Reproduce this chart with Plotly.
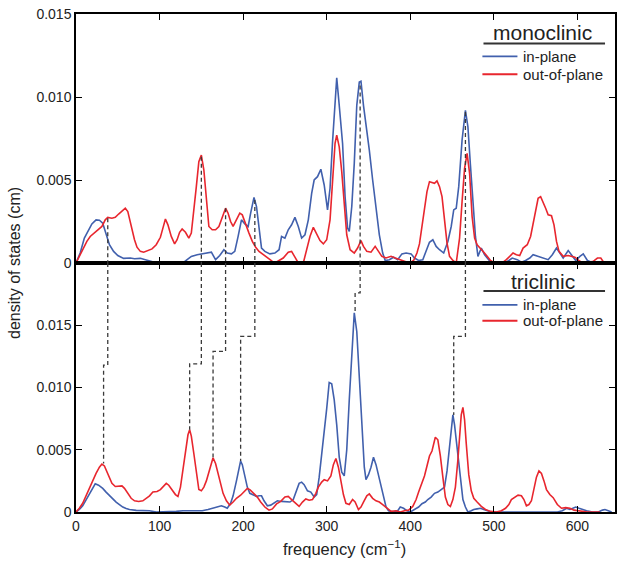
import numpy as np
import plotly.graph_objects as go
from plotly.subplots import make_subplots

# (frequency in cm^-1, density of states in 1e-3 cm)
mono_in = [(0,0),(5,0.6),(10,1.5),(15,2.0),(19,2.35),(24,2.6),(28,2.58),(32,2.4),(36,1.8),(40,1.1),(45,0.7),(50,0.45),
           (57,0.28),(65,0.3),(70,0.26),(77,0.28),(83,0.2),(90,0.1),(97,0),(105,0),(115,0),(122,0.05),(128,0),(133,0.2),
           (138,0.4),(145,0.5),(152,0.55),(158,0.6),(162,0.65),(167,0.2),(172,0.45),(177,0.8),(181,0.6),(186,0.55),(190,0.7),
           (194,1.6),(198,2.6),(202,2.35),(206,2.2),(209,3.0),(213,3.95),(216,3.4),(219,2.0),(222,0.9),(226,0.7),(232,0.55),
           (238,0.6),(243,0.8),(246,1.6),(250,1.5),(254,2.0),(258,2.3),(262,2.75),(266,2.2),(270,1.5),(274,1.7),(278,2.6),
           (282,4.2),(285,5.0),(289,5.2),(293,5.65),(297,4.7),(301,3.2),(304,4.5),(307,7.3),(310,10.0),(312,11.15),(315,9.5),
           (319,7.2),(322,4.0),(325,2.1),(327,1.9),(330,3.4),(333,6.0),(336,9.5),(339,10.9),(341,10.95),(344,9.5),(347,8.4),
           (351,6.8),(355,5.0),(359,3.5),(363,1.7),(367,0.6),(370,0.15),(375,0.2),(380,0.35),(385,0.2),(390,0.55),(395,0.6),
           (401,0.55),(405,0.3),(410,0.15),(415,0.2),(419,0.7),(423,1.25),(427,1.4),(431,1.0),(435,0.8),(440,0.6),(445,1.3),
           (449,2.2),(452,3.2),(455,3.3),(458,4.6),(462,7.4),(466,9.2),(469,8.2),(472,5.9),(475,3.8),(478,1.6),(481,0.4),
           (485,0.9),(489,0.5),(493,0.25),(497,0),(505,0),(513,0),(518,0.15),(522,0.3),(528,0.2),(533,0.05),(538,0.15),
           (543,0.3),(547,0.5),(553,0.4),(558,0.3),(565,0.2),(570,0.5),(575,0.9),(579,0.6),(583,0.3),(589,0.75),(593,0.45),
           (598,0.15),(603,0.4),(607,0.55),(612,0.15),(617,0.05),(622,0),(630,0)]

mono_out = [(0,0),(5,0.5),(9,0.95),(13,1.3),(17,1.6),(22,1.8),(27,2.0),(31,2.2),(35,2.6),(38,2.75),(43,2.7),(47,2.75),
            (51,2.95),(55,3.15),(59,3.3),(62,3.1),(66,2.2),(70,1.4),(73,0.95),(77,0.7),(81,0.65),(86,0.75),(91,0.85),(96,1.1),
            (101,1.55),(104,2.1),(107,2.65),(110,2.3),(114,1.6),(118,1.15),(121,1.4),(124,1.85),(127,2.05),(131,1.85),(135,1.5),
            (138,1.8),(141,3.1),(144,4.6),(147,6.1),(150,6.5),(153,5.6),(156,3.8),(159,2.2),(163,2.0),(167,2.0),(171,2.2),
            (175,2.8),(179,3.3),(182,3.0),(185,2.5),(188,2.2),(192,2.6),(196,3.0),(199,2.9),(203,2.3),(207,1.8),(211,1.3),
            (215,0.95),(219,0.7),(223,0.55),(227,0.35),(231,0.2),(235,0.1),(238,0),(243,0.15),(248,0.3),(254,0.65),(258,0.7),
            (262,0.35),(266,0),(272,0),(276,0.8),(280,1.6),(284,2.15),(288,1.7),(292,1.35),(296,1.15),(300,1.4),(304,2.6),
            (307,4.8),(310,7.2),(312,7.7),(315,7.0),(318,5.5),(321,3.5),(324,1.7),(328,0.8),(333,0.6),(337,0.9),(341,1.35),
            (344,1.0),(348,0.7),(353,0.65),(358,1.0),(362,0.7),(366,0.4),(371,0.3),(377,0.4),(382,0.3),(388,0.2),(394,0.1),
            (399,0),(404,0.15),(408,0.6),(411,1.15),(414,2.2),(417,3.5),(420,4.3),(423,4.9),(426,4.85),(429,4.8),(432,4.95),
            (435,4.6),(438,4.0),(441,2.5),(444,1.2),(447,0.4),(451,0.15),(455,0),(459,1.5),(462,3.7),(465,5.7),(468,6.6),
            (471,5.4),(474,2.8),(477,1.5),(480,1.1),(484,0.9),(488,0.65),(492,0.4),(496,0.15),(501,0),(510,0),(515,0.2),
            (519,0.4),(523,0.6),(527,0.5),(531,0.45),(535,0.9),(540,1.1),(544,1.6),(547,2.4),(550,3.2),(553,3.9),(556,4.0),
            (559,3.7),(562,3.3),(565,2.9),(569,2.85),(572,2.3),(575,1.3),(578,0.7),(583,0.4),(589,0.45),(597,0.35),(603,0.1),
            (608,0),(614,0.05),(619,0.1),(624,0.3),(628,0.3),(632,0)]

tri_in = [(0,0),(4,0.2),(8,0.5),(12,1.0),(16,1.5),(20,2.0),(23,2.27),(27,2.15),(32,1.9),(36,1.6),(40,1.33),(44,1.05),
          (48,0.8),(52,0.6),(56,0.4),(60,0.28),(64,0.2),(72,0.13),(80,0.1),(88,0.1),(96,0),(105,0),(113,0),(120,0.05),
          (128,0.1),(135,0.1),(143,0.12),(151,0.1),(158,0.2),(164,0.3),(170,0.4),(174,0.5),(178,0.4),(181,0.3),(185,0.7),
          (188,1.3),(192,2.5),(195,3.5),(197,4.1),(199,3.8),(202,2.8),(205,2.0),(208,1.5),(212,1.4),(216,1.25),(219,1.3),
          (222,1.3),(225,0.9),(229,0.5),(233,0.55),(237,0.75),(241,0.9),(246,0.85),(251,0.8),(256,0.8),(260,1.0),(264,1.8),
          (267,2.3),(270,2.4),(273,2.2),(277,1.7),(281,1.6),(285,1.2),(288,1.4),(291,2.8),(294,4.5),(297,6.3),(300,8.3),
          (303,10.4),(306,10.3),(309,9.0),(312,7.0),(315,4.4),(318,3.2),(321,2.9),(324,5.0),(327,9.0),(330,12.5),(333,16.0),
          (336,14.5),(339,11.0),(342,6.5),(345,3.6),(347,2.6),(350,3.0),(353,3.6),(356,4.4),(359,3.8),(362,3.0),(365,2.0),
          (368,1.2),(371,0.4),(374,0.1),(380,0),(385,0.1),(388,0.4),(392,0.3),(396,0.1),(400,0),(405,0.2),(410,0.4),
          (414,0.66),(418,0.8),(421,1.0),(425,1.2),(429,1.5),(433,1.6),(437,1.8),(441,2.0),(444,3.3),(447,5.2),(449,6.6),
          (451,7.8),(453,7.0),(455,5.8),(457,4.3),(459,2.9),(461,1.8),(463,1.0),(466,0.4),(469,0),(473,0.1),(476,0.2),
          (480,0.25),(484,0.3),(488,0.2),(492,0.1),(497,0),(505,0),(520,0),(540,0),(560,0),(576,0),(582,0.1),(587,0.3),
          (591,0.2),(595,0.35),(598,0.4),(602,0.3),(606,0.2),(611,0.1),(618,0),(625,0),(630,0.15),(633,0.2),(637,0.1),(641,0)]

tri_out = [(0,0),(4,0.3),(8,0.7),(12,1.3),(16,2.0),(20,2.6),(24,3.1),(28,3.6),(31,3.85),(34,3.7),(37,3.2),(40,2.7),
           (43,2.3),(47,2.05),(51,2.05),(55,2.1),(58,1.9),(62,1.5),(66,1.1),(70,0.9),(75,0.85),(80,0.9),(84,1.1),(88,1.3),
           (92,1.6),(97,1.65),(101,1.8),(105,2.1),(108,2.3),(111,2.15),(115,1.8),(119,1.4),(122,1.25),(125,2.0),(128,3.4),
           (131,4.8),(134,6.2),(136,6.6),(138,6.1),(141,4.7),(144,3.0),(147,1.8),(150,1.7),(153,2.0),(156,2.5),(159,3.2),
           (162,4.1),(164,4.35),(167,3.9),(170,3.1),(173,2.2),(176,1.5),(180,0.9),(184,0.55),(188,0.8),(192,1.1),(197,1.35),
           (201,1.6),(205,1.9),(208,1.8),(212,1.5),(217,1.2),(221,0.8),(226,0.4),(231,0.15),(235,0.25),(240,0.65),(245,0.85),
           (250,1.2),(254,1.25),(258,1.0),(263,0.7),(267,0.45),(271,0.8),(275,1.05),(279,0.95),(283,1.0),(287,1.5),(290,2.0),
           (294,2.4),(297,2.6),(301,2.5),(305,2.9),(308,3.8),(311,4.3),(314,3.6),(317,2.4),(320,1.4),(323,0.7),(327,0.6),
           (331,1.0),(334,0.8),(338,0.2),(341,0.4),(344,0.8),(348,1.3),(351,1.45),(355,1.1),(359,0.9),(363,0.8),(367,0.6),
           (372,0.3),(377,0.05),(383,0.1),(388,0),(393,0.1),(398,0.15),(403,0.45),(407,1.0),(410,1.6),(414,2.3),(417,2.9),
           (420,3.7),(423,4.5),(426,4.9),(430,6.0),(433,5.8),(436,4.5),(439,2.8),(442,1.2),(445,0.6),(448,0.45),(451,1.0),
           (454,2.0),(457,4.2),(459,6.0),(461,7.8),(463,8.4),(465,7.4),(467,5.5),(470,3.0),(473,1.7),(476,1.1),(480,0.8),
           (485,0.45),(490,0.2),(496,0.05),(503,0),(509,0.1),(514,0.3),(518,0.6),(521,1.0),(525,1.2),(529,1.35),(533,1.3),
           (536,1.0),(539,0.5),(542,0.6),(545,0.9),(548,1.8),(551,2.8),(554,3.3),(557,3.1),(560,2.5),(563,1.8),(567,1.4),
           (571,1.15),(576,0.6),(581,0.3),(586,0.35),(591,0.3),(596,0.15),(601,0.1),(606,0),(612,0),(620,0),(627,0)]

# dashed connectors: monoclinic peak -> triclinic peak (freq, DOS in 1e-3 cm)
link_top_freq = [38, 150, 179, 214, 340, 466]
link_top_dos = [2.7, 6.4, 3.3, 3.8, 10.7, 9.1]
link_step_dos = [11.8, 11.9, 12.9, 14.1, 17.6, 14.1]
link_bot_freq = [33, 136, 164, 197, 334, 452]
link_bot_dos = [3.9, 6.6, 4.4, 4.1, 16.0, 7.8]

x_ticks = [0, 100, 200, 300, 400, 500, 600]
y_ticks = [0, 0.005, 0.010, 0.015]
y_tick_text = ["0", "0.005", "0.010", "0.015"]

BLUE = "#4160ad"
RED = "#e8262e"
DASH = "#3a3a3a"
MILLI = 1e-3


def split(pairs):
    a = np.array(pairs, dtype=float)
    return a[:, 0], a[:, 1] * MILLI


fig = make_subplots(rows=2, cols=1, shared_xaxes=True, vertical_spacing=0)

for pairs, color, row in [(mono_in, BLUE, 1), (mono_out, RED, 1), (tri_in, BLUE, 2), (tri_out, RED, 2)]:
    fx, fy = split(pairs)
    fig.add_trace(go.Scatter(x=fx, y=fy, mode="lines", line=dict(color=color, width=1.6),
                             showlegend=False, hoverinfo="skip"), row=row, col=1)

shapes = []
for tf, td, sd, bf, bd in zip(link_top_freq, link_top_dos, link_step_dos, link_bot_freq, link_bot_dos):
    shapes.append(dict(type="line", xref="x", yref="y", x0=tf, x1=tf, y0=td * MILLI, y1=0,
                       line=dict(color=DASH, width=1.3, dash="4px,3px")))
    path = f"M {tf},{0.02} L {tf},{sd * MILLI} L {bf},{sd * MILLI} L {bf},{bd * MILLI}"
    shapes.append(dict(type="path", xref="x2", yref="y2", path=path,
                       line=dict(color=DASH, width=1.3, dash="4px,3px")))

# custom legends
FONT = "Liberation Sans, Arial, Helvetica, sans-serif"
annotations = []
legend_specs = [("monoclinic", 0.962, 0.9406, 0.915, 0.879),
                ("triclinic", 0.463, 0.4436, 0.416, 0.384)]
for title, ty, uy, by, ry in legend_specs:
    annotations.append(dict(text=title, xref="paper", yref="paper", x=0.866, y=ty, xanchor="center",
                            yanchor="middle", showarrow=False, font=dict(size=21, color="#222", family=FONT)))
    shapes.append(dict(type="line", xref="paper", yref="paper", x0=0.756, x1=0.9815, y0=uy, y1=uy,
                       line=dict(color="#333", width=2)))
    for yy, col, lab in [(by, BLUE, "in-plane"), (ry, RED, "out-of-plane")]:
        shapes.append(dict(type="line", xref="paper", yref="paper", x0=0.754, x1=0.819, y0=yy, y1=yy,
                           line=dict(color=col, width=1.8)))
        annotations.append(dict(text=lab, xref="paper", yref="paper", x=0.826, y=yy, xanchor="left",
                                yanchor="middle", showarrow=False, font=dict(size=15, color="#222", family=FONT)))

annotations.append(dict(text="density of states (cm)", xref="paper", yref="paper", x=-0.115, y=0.5,
                        xanchor="center", yanchor="middle", textangle=-90, showarrow=False,
                        font=dict(size=16, color="#222", family=FONT)))
annotations.append(dict(text="frequency (cm<sup>−1</sup>)", xref="paper", yref="paper", x=0.499, y=-0.072,
                        xanchor="center", yanchor="middle", showarrow=False,
                        font=dict(size=16.5, color="#222", family=FONT)))

axis_common = dict(showline=True, linecolor="black", linewidth=1.5, mirror="ticks", ticks="inside",
                   ticklen=6, tickwidth=1.3, tickcolor="black", showgrid=False, zeroline=False,
                   ticklabeloverflow="allow",
                   tickfont=dict(size=14, color="#222", family=FONT))

fig.update_xaxes(range=[0, 645], tickvals=x_ticks, **axis_common)
fig.update_xaxes(showticklabels=False, row=1, col=1)
fig.update_yaxes(tickvals=y_ticks, ticktext=y_tick_text, **axis_common)
fig.update_yaxes(range=[0, 0.015], row=1, col=1)
fig.update_yaxes(range=[0, 0.02], row=2, col=1)

fig.update_layout(width=623, height=566, margin=dict(l=76, r=6, t=7, b=54),
                  plot_bgcolor="white", paper_bgcolor="white",
                  shapes=shapes, annotations=annotations, font=dict(family=FONT))

fig.write_html("out.html", config={"displayModeBar": False},
               post_script="document.body.style.margin='0';document.body.style.overflow='hidden';")
